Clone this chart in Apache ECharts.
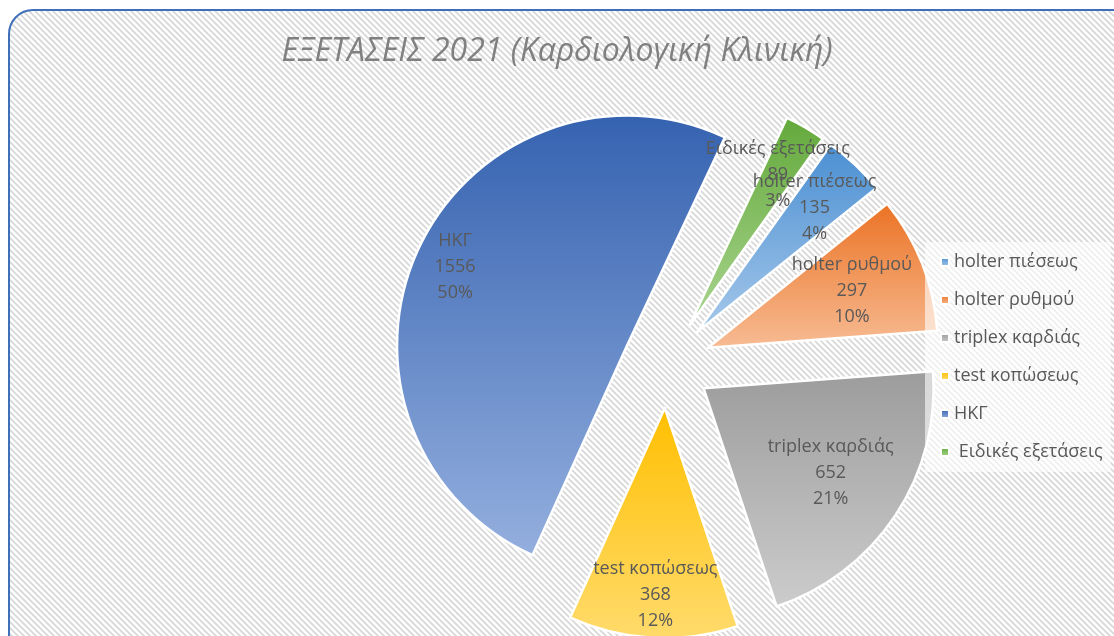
<!DOCTYPE html>
<html>
<head>
<meta charset="utf-8">
<title>ΕΞΕΤΑΣΕΙΣ 2021</title>
<script src="https://cdn.jsdelivr.net/npm/echarts@6/dist/echarts.min.js"></script>
<style>
  html, body { margin: 0; padding: 0; background: #fff; }
  #chart { width: 1114px; height: 636px; }
</style>
</head>
<body>
<div id="chart"></div>
<script>
// data
const categories = ["holter πιέσεως", "holter ρυθμού", "triplex καρδιάς", "test κοπώσεως", "ΗΚΓ", " Ειδικές εξετάσεις"];
const counts = [135, 297, 652, 368, 1556, 89];

// slice gradients (top, bottom)
const topColors = ["#4A8FD2", "#EB7224", "#9C9C9C", "#FFBF00", "#3562B0", "#63A93B"];
const bottomColors = ["#A6C8EA", "#F7BC94", "#CCCCCC", "#FFDB6C", "#94AFDE", "#AAD590"];
// where each label sits along the slice radius (0 = centre, 1 = rim)
const labelRadius = [0.73, 0.66, 0.65, 0.80, 0.81, 0.75];

const R = 230;
const START = 54.5;

// diagonal hatch for the chart area
function hatch() {
  const c = document.createElement("canvas");
  c.width = 6; c.height = 6;
  const g = c.getContext("2d");
  g.fillStyle = "#ffffff";
  g.fillRect(0, 0, 6, 6);
  g.strokeStyle = "#d6d6d6";
  g.lineWidth = 1.6;
  [-6, 0, 6].forEach((k) => {
    g.beginPath();
    g.moveTo(k - 1, -1);
    g.lineTo(k + 7, 7);
    g.stroke();
  });
  return c;
}

const total = counts.reduce((a, b) => a + b, 0);
const midAngles = [];
let acc = 0;
counts.forEach((v) => {
  const a = (START * Math.PI) / 180 - ((acc + v / 2) / total) * Math.PI * 2;
  midAngles.push(a);
  acc += v;
});

const pieData = categories.map((name, i) => ({
  name: name,
  value: counts[i],
  selected: true,
  itemStyle: {
    color: {
      type: "linear", x: 0, y: 0, x2: 0, y2: 1,
      colorStops: [
        { offset: 0, color: topColors[i] },
        { offset: 1, color: bottomColors[i] },
      ],
    },
  },
}));

const chart = echarts.init(document.getElementById("chart"));
chart.setOption({
  animation: false,
  backgroundColor: "#ffffff",
  graphic: [
    {
      type: "rect",
      z: -10,
      silent: true,
      shape: { x: 9, y: 10, width: 1140, height: 660, r: 24 },
      style: {
        fill: { image: hatch(), repeat: "repeat" },
        stroke: "#3F6FB9",
        lineWidth: 2,
      },
    },
  ],
  title: {
    text: "ΕΞΕΤΑΣΕΙΣ 2021 (Καρδιολογική Κλινική)",
    left: "center",
    top: 31,
    textStyle: {
      fontFamily: "Open Sans",
      fontStyle: "italic",
      fontWeight: "normal",
      fontSize: 32,
      color: "#808080",
    },
  },
  legend: {
    orient: "vertical",
    left: 925,
    top: 242,
    padding: [11, 8, 11, 15],
    itemWidth: 8,
    itemHeight: 8,
    itemGap: 20,
    icon: "rect",
    backgroundColor: "rgba(255,255,255,0.6)",
    textStyle: { fontFamily: "Open Sans", fontSize: 18, color: "#595959" },
    data: categories,
  },
  series: [
    {
      type: "pie",
      center: [667, 364],
      radius: R,
      startAngle: START,
      clockwise: true,
      selectedMode: "multiple",
      selectedOffset: 44,
      percentPrecision: 0,
      emphasis: { disabled: true },
      itemStyle: { borderColor: "#ffffff", borderWidth: 2.5 },
      label: {
        show: true,
        position: "inner",
        formatter: (p) => p.name.trim() + "\n" + p.value + "\n" + p.percent + "%",
        fontFamily: "Open Sans",
        fontSize: 18,
        lineHeight: 26,
        color: "#595959",
      },
      labelLine: { show: false },
      labelLayout: (p) => {
        const i = p.dataIndex;
        const d = (labelRadius[i] - 0.5) * R;
        return { dx: d * Math.cos(midAngles[i]), dy: -d * Math.sin(midAngles[i]) };
      },
      data: pieData,
    },
  ],
});
</script>
</body>
</html>
